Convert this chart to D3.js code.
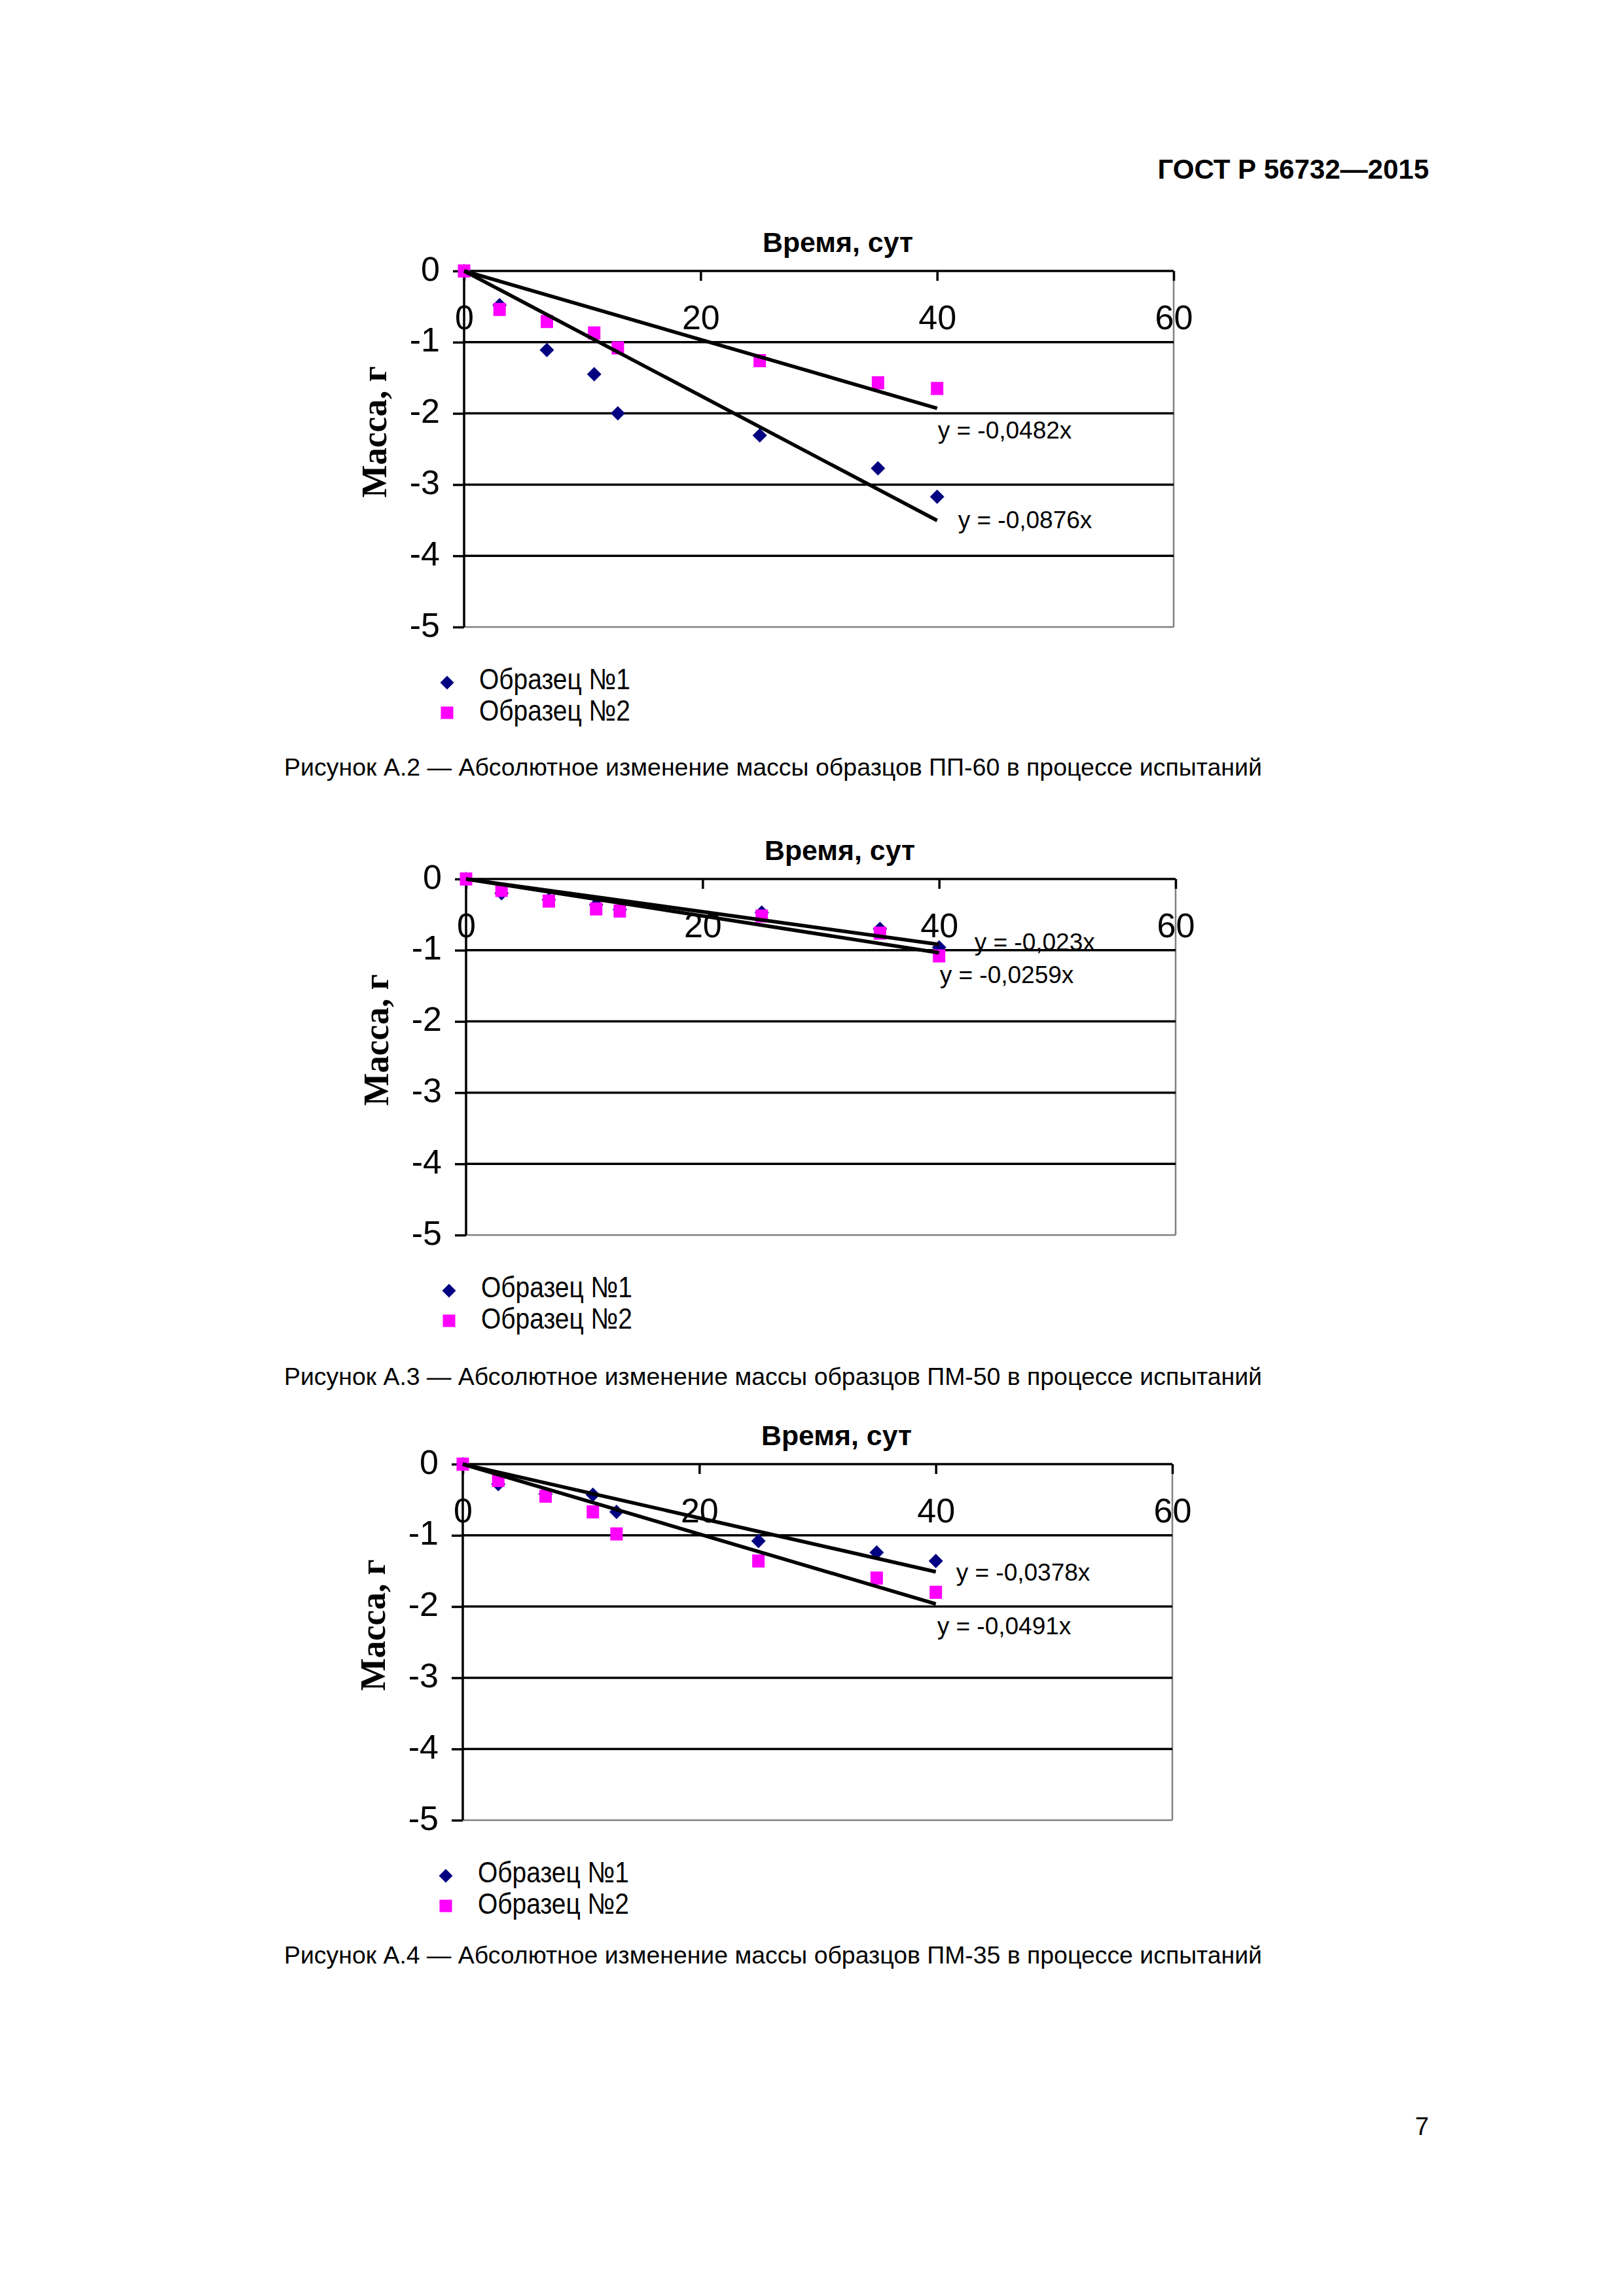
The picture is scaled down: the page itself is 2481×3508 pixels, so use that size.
<!DOCTYPE html>
<html>
<head>
<meta charset="utf-8">
<script src="https://cdn.jsdelivr.net/npm/d3@7/dist/d3.min.js"></script>
<style>
  html, body { margin: 0; padding: 0; background: #fff; }
  svg { display: block; }
</style>
</head>
<body>
<script>
// ---------------- DATA ----------------
const days = [0, 3, 7, 11, 13, 25, 35, 40];
const xTicks = [0, 20, 40, 60];
const yTicks = [0, -1, -2, -3, -4, -5];
const seriesNames = ["Образец №1", "Образец №2"];

// Рисунок А.2 (ПП-60)
const pp60Sample1 = [0, -0.48, -1.11, -1.45, -2.0, -2.31, -2.77, -3.17];
const pp60Sample2 = [0, -0.54, -0.71, -0.87, -1.08, -1.26, -1.57, -1.65];
const pp60Slopes = [-0.0876, -0.0482];
const pp60Eq = ["y = -0,0876x", "y = -0,0482x"];

// Рисунок А.3 (ПМ-50)
const pm50Sample1 = [0, -0.2, -0.29, -0.36, -0.43, -0.47, -0.7, -0.96];
const pm50Sample2 = [0, -0.16, -0.31, -0.42, -0.45, -0.52, -0.76, -1.08];
const pm50Slopes = [-0.023, -0.0259];
const pm50Eq = ["y = -0,023x", "y = -0,0259x"];

// Рисунок А.4 (ПМ-35)
const pm35Sample1 = [0, -0.28, -0.42, -0.43, -0.67, -1.08, -1.24, -1.36];
const pm35Sample2 = [0, -0.23, -0.45, -0.67, -0.98, -1.36, -1.6, -1.8];
const pm35Slopes = [-0.0378, -0.0491];
const pm35Eq = ["y = -0,0378x", "y = -0,0491x"];

const captions = [
  "Рисунок А.2 — Абсолютное изменение массы образцов ПП-60 в процессе испытаний",
  "Рисунок А.3 — Абсолютное изменение массы образцов ПМ-50 в процессе испытаний",
  "Рисунок А.4 — Абсолютное изменение массы образцов ПМ-35 в процессе испытаний"
];
const xTitle = "Время, сут";
const yTitle = "Масса, г";
const header = "ГОСТ Р 56732—2015";
const pageNo = "7";

// ---------------- LAYOUT ----------------
const charts = [
  { s1: pp60Sample1, s2: pp60Sample2, slopes: pp60Slopes, eq: pp60Eq,
    left: 709, top: 414, eqOff: [[32, 12], [1, 46]], capY: 1185 },
  { s1: pm50Sample1, s2: pm50Sample2, slopes: pm50Slopes, eq: pm50Eq,
    left: 712, top: 1343, eqOff: [[54, 9], [1, 46]], capY: 2116 },
  { s1: pm35Sample1, s2: pm35Sample2, slopes: pm35Slopes, eq: pm35Eq,
    left: 707, top: 2237, eqOff: [[31, 13], [2, 46]], capY: 3000 }
];
const PW = 1084, PH = 544;
const SANS = "'Liberation Sans', Arial, Helvetica, sans-serif";
const SERIF = "'Liberation Serif', 'Times New Roman', serif";
const NAVY = "#000080", MAGENTA = "#FF00FF";

const svg = d3.select("body").append("svg")
  .attr("width", 2481).attr("height", 3508)
  .attr("viewBox", "0 0 2481 3508");
svg.append("rect").attr("width", 2481).attr("height", 3508).attr("fill", "#fff");

svg.append("text").text(header)
  .attr("x", 2183).attr("y", 273).attr("text-anchor", "end")
  .attr("font-family", SANS).attr("font-weight", "bold").attr("font-size", 42)
  .attr("fill", "#000");
svg.append("text").text(pageNo)
  .attr("x", 2183).attr("y", 3262).attr("text-anchor", "end")
  .attr("font-family", SANS).attr("font-size", 38).attr("fill", "#000");

const diamondPath = r => `M0,${-r}L${r},0L0,${r}L${-r},0Z`;

charts.forEach((c, ci) => {
  const x = d3.scaleLinear().domain([0, 60]).range([c.left, c.left + PW]);
  const y = d3.scaleLinear().domain([0, -5]).range([c.top, c.top + PH]);
  const g = svg.append("g");

  // plot border (gray) right & bottom
  g.append("line").attr("x1", x(60)).attr("x2", x(60)).attr("y1", y(0)).attr("y2", y(-5))
    .attr("stroke", "#808080").attr("stroke-width", 2.5);
  g.append("line").attr("x1", x(0)).attr("x2", x(60)).attr("y1", y(-5)).attr("y2", y(-5))
    .attr("stroke", "#808080").attr("stroke-width", 2.5);

  // horizontal gridlines
  g.selectAll(".grid").data(yTicks.filter(v => v < 0 && v > -5)).join("line")
    .attr("x1", x(0)).attr("x2", x(60))
    .attr("y1", d => y(d)).attr("y2", d => y(d))
    .attr("stroke", "#000").attr("stroke-width", 3.5);

  // Y axis
  const yAxis = d3.axisLeft(y).tickValues(yTicks).tickSize(17).tickPadding(20)
    .tickFormat(d => String(d));
  const ya = g.append("g").attr("transform", `translate(${c.left},0)`).call(yAxis);
  ya.select(".domain").remove();
  ya.selectAll(".tick line").attr("stroke", "#000").attr("stroke-width", 3.5);
  ya.selectAll(".tick text").attr("font-family", SANS).attr("font-size", 52)
    .attr("fill", "#000").attr("dy", "0.27em");
  g.append("line").attr("x1", x(0)).attr("x2", x(0)).attr("y1", y(0) - 1.5).attr("y2", y(-5))
    .attr("stroke", "#000").attr("stroke-width", 3.5);

  // X axis on top (at y = 0)
  const xAxis = d3.axisBottom(x).tickValues(xTicks).tickSize(15).tickPadding(37)
    .tickFormat(d => String(d));
  const xa = g.append("g").attr("transform", `translate(0,${c.top})`).call(xAxis);
  xa.select(".domain").remove();
  xa.selectAll(".tick line").attr("stroke", "#000").attr("stroke-width", 3.5);
  xa.selectAll(".tick text").attr("font-family", SANS).attr("font-size", 52)
    .attr("fill", "#000").attr("dy", "0.71em");
  g.append("line").attr("x1", x(0)).attr("x2", x(60)).attr("y1", y(0)).attr("y2", y(0))
    .attr("stroke", "#000").attr("stroke-width", 3.5);

  // titles
  g.append("text").text(xTitle)
    .attr("x", c.left + 571).attr("y", c.top - 29).attr("text-anchor", "middle")
    .attr("font-family", SANS).attr("font-weight", "bold").attr("font-size", 43)
    .attr("fill", "#000").attr("textLength", 230).attr("lengthAdjust", "spacingAndGlyphs");
  g.append("text").text(yTitle)
    .attr("transform", `translate(${c.left - 119},${c.top + 246}) rotate(-90)`)
    .attr("text-anchor", "middle")
    .attr("font-family", SERIF).attr("font-weight", "bold").attr("font-size", 54)
    .attr("fill", "#000").attr("textLength", 201).attr("lengthAdjust", "spacingAndGlyphs");

  // markers
  const pts1 = days.map((d, i) => [d, c.s1[i]]);
  const pts2 = days.map((d, i) => [d, c.s2[i]]);
  g.selectAll(".s1").data(pts1).join("path")
    .attr("d", diamondPath(11))
    .attr("transform", d => `translate(${x(d[0])},${y(d[1])})`)
    .attr("fill", NAVY);
  g.selectAll(".s2").data(pts2).join("rect")
    .attr("x", d => x(d[0]) - 9.5).attr("y", d => y(d[1]) - 10)
    .attr("width", 19).attr("height", 20)
    .attr("fill", MAGENTA);

  // linear trend lines (through origin) and their equations
  c.slopes.forEach((s, si) => {
    const xEnd = d3.max(days);
    g.append("line")
      .attr("x1", x(0)).attr("y1", y(0))
      .attr("x2", x(xEnd)).attr("y2", y(s * xEnd))
      .attr("stroke", "#000").attr("stroke-width", 5.5);
    g.append("text").text(c.eq[si])
      .attr("x", x(xEnd) + c.eqOff[si][0]).attr("y", y(s * xEnd) + c.eqOff[si][1])
      .attr("font-family", SANS).attr("font-size", 37).attr("fill", "#000");
  });

  // legend
  const lx = c.left - 26, ly = c.top + PH;
  g.append("path").attr("d", diamondPath(10.5))
    .attr("transform", `translate(${lx},${ly + 85})`).attr("fill", NAVY);
  g.append("rect").attr("x", lx - 9.5).attr("y", ly + 131 - 9.5)
    .attr("width", 19).attr("height", 19).attr("fill", MAGENTA);
  seriesNames.forEach((n, i) => {
    g.append("text").text(n)
      .attr("x", c.left + 23).attr("y", ly + 95 + i * 48)
      .attr("font-family", SANS).attr("font-size", 45).attr("fill", "#000")
      .attr("textLength", 231).attr("lengthAdjust", "spacingAndGlyphs");
  });

  // caption
  svg.append("text").text(captions[ci])
    .attr("x", 1181).attr("y", c.capY).attr("text-anchor", "middle")
    .attr("font-family", SANS).attr("font-size", 36).attr("fill", "#000")
    .attr("textLength", 1494).attr("lengthAdjust", "spacingAndGlyphs");
});
</script>
</body>
</html>
